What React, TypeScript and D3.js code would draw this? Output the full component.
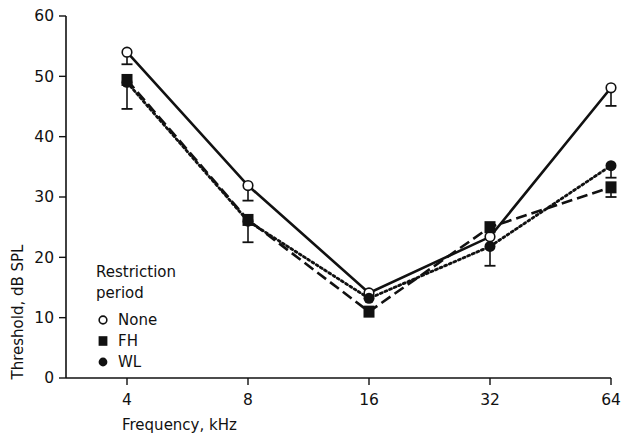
import React from 'react';
import * as d3 from 'd3';

// frequencies (kHz) and thresholds (dB SPL)
const freqs = [4, 8, 16, 32, 64];
const yTicks = [0, 10, 20, 30, 40, 50, 60];

const noneVals = [54, 31.9, 14.1, 23.4, 48.1];
const fhVals = [49.4, 26.2, 11, 25, 31.6];
const wlVals = [49, 26, 13.2, 21.8, 35.2];

// lower end of the error bars (null = none drawn)
const noneLow = [52, 29.4, null, null, 45.1];
const fhLow = [null, null, null, null, 30];
const wlLow = [44.6, 22.5, null, 18.6, 33.2];

const series = [
  { name: 'None', values: noneVals, low: noneLow, dash: null, marker: 'open' },
  { name: 'FH', values: fhVals, low: fhLow, dash: '11,5', marker: 'square' },
  { name: 'WL', values: wlVals, low: wlLow, dash: '2,3', marker: 'dot' },
];

const font = '"DejaVu Sans", sans-serif';

function Marker({ kind, x, y, size = 1 }) {
  if (kind === 'open') {
    return <circle cx={x} cy={y} r={4.8 * size} fill="#fff" stroke="#111" strokeWidth={1.6} />;
  }
  if (kind === 'square') {
    return <rect x={x - 5.5 * size} y={y - 6 * size} width={11 * size} height={12 * size} fill="#111" />;
  }
  return <circle cx={x} cy={y} r={5.5 * size} fill="#111" />;
}

export default function App() {
  const width = 624;
  const height = 438;
  const axisLeft = 66;
  const axisBottom = 378;

  const x = d3.scaleLog().base(2).domain([4, 64]).range([127, 611]);
  const y = d3.scaleLinear().domain([0, 60]).range([axisBottom, 16]);

  const line = d3.line<number>()
    .x((d, i) => x(freqs[i]))
    .y(d => y(d));

  return (
    <svg width={width} height={height} style={{ position: 'absolute', left: 0, top: 0, background: '#fff' }}
      fontFamily={font}>
      {/* axes */}
      <line x1={axisLeft} x2={axisLeft} y1={y(60)} y2={axisBottom} stroke="#111" strokeWidth={1.6} />
      <line x1={axisLeft} x2={x(64)} y1={axisBottom} y2={axisBottom} stroke="#111" strokeWidth={1.6} />
      {yTicks.map(t => (
        <g key={t}>
          <line x1={axisLeft - 7} x2={axisLeft} y1={y(t)} y2={y(t)} stroke="#111" strokeWidth={1.4} />
          <text x={axisLeft - 12} y={y(t)} dy="0.35em" textAnchor="end" fontSize={15.5} fill="#111">{t}</text>
        </g>
      ))}
      {freqs.map(f => (
        <g key={f}>
          <line x1={x(f)} x2={x(f)} y1={axisBottom} y2={axisBottom + 7} stroke="#111" strokeWidth={1.4} />
          <text x={x(f)} y={axisBottom + 27} textAnchor="middle" fontSize={15.5} fill="#111">{f}</text>
        </g>
      ))}
      <text x={122} y={430} fontSize={15} fill="#111">Frequency, kHz</text>
      <text transform={`translate(23,312) rotate(-90)`} textAnchor="middle" fontSize={15} fill="#111">
        Threshold, dB SPL
      </text>

      {/* error bars */}
      {series.map(s => s.low.map((lo, i) => lo == null ? null : (
        <g key={s.name + i}>
          <line x1={x(freqs[i])} x2={x(freqs[i])} y1={y(s.values[i])} y2={y(lo)} stroke="#111" strokeWidth={1.6} />
          <line x1={x(freqs[i]) - 5.5} x2={x(freqs[i]) + 5.5} y1={y(lo)} y2={y(lo)} stroke="#111" strokeWidth={1.8} />
        </g>
      )))}

      {/* lines */}
      {series.map(s => (
        <path key={s.name} d={line(s.values) || ''} fill="none" stroke="#111"
          strokeWidth={s.marker === 'dot' ? 2.8 : 2.6}
          strokeDasharray={s.dash || undefined}
          strokeLinecap={s.marker === 'dot' ? 'round' : 'butt'} />
      ))}

      {/* markers: None first, then WL, FH on top */}
      {[series[0], series[2], series[1]].map(s => s.values.map((v, i) => (
        <Marker key={s.name + i} kind={s.marker} x={x(freqs[i])} y={y(v)} />
      )))}

      {/* legend */}
      <text x={96} y={277} fontSize={15} fill="#111">Restriction</text>
      <text x={96} y={298} fontSize={15} fill="#111">period</text>
      {series.map((s, i) => (
        <g key={s.name}>
          <Marker kind={s.marker} x={103} y={320 + i * 21} size={0.8} />
          <text x={118} y={320 + i * 21} dy="0.35em" fontSize={15} fill="#111">{s.name}</text>
        </g>
      ))}
    </svg>
  );
}
